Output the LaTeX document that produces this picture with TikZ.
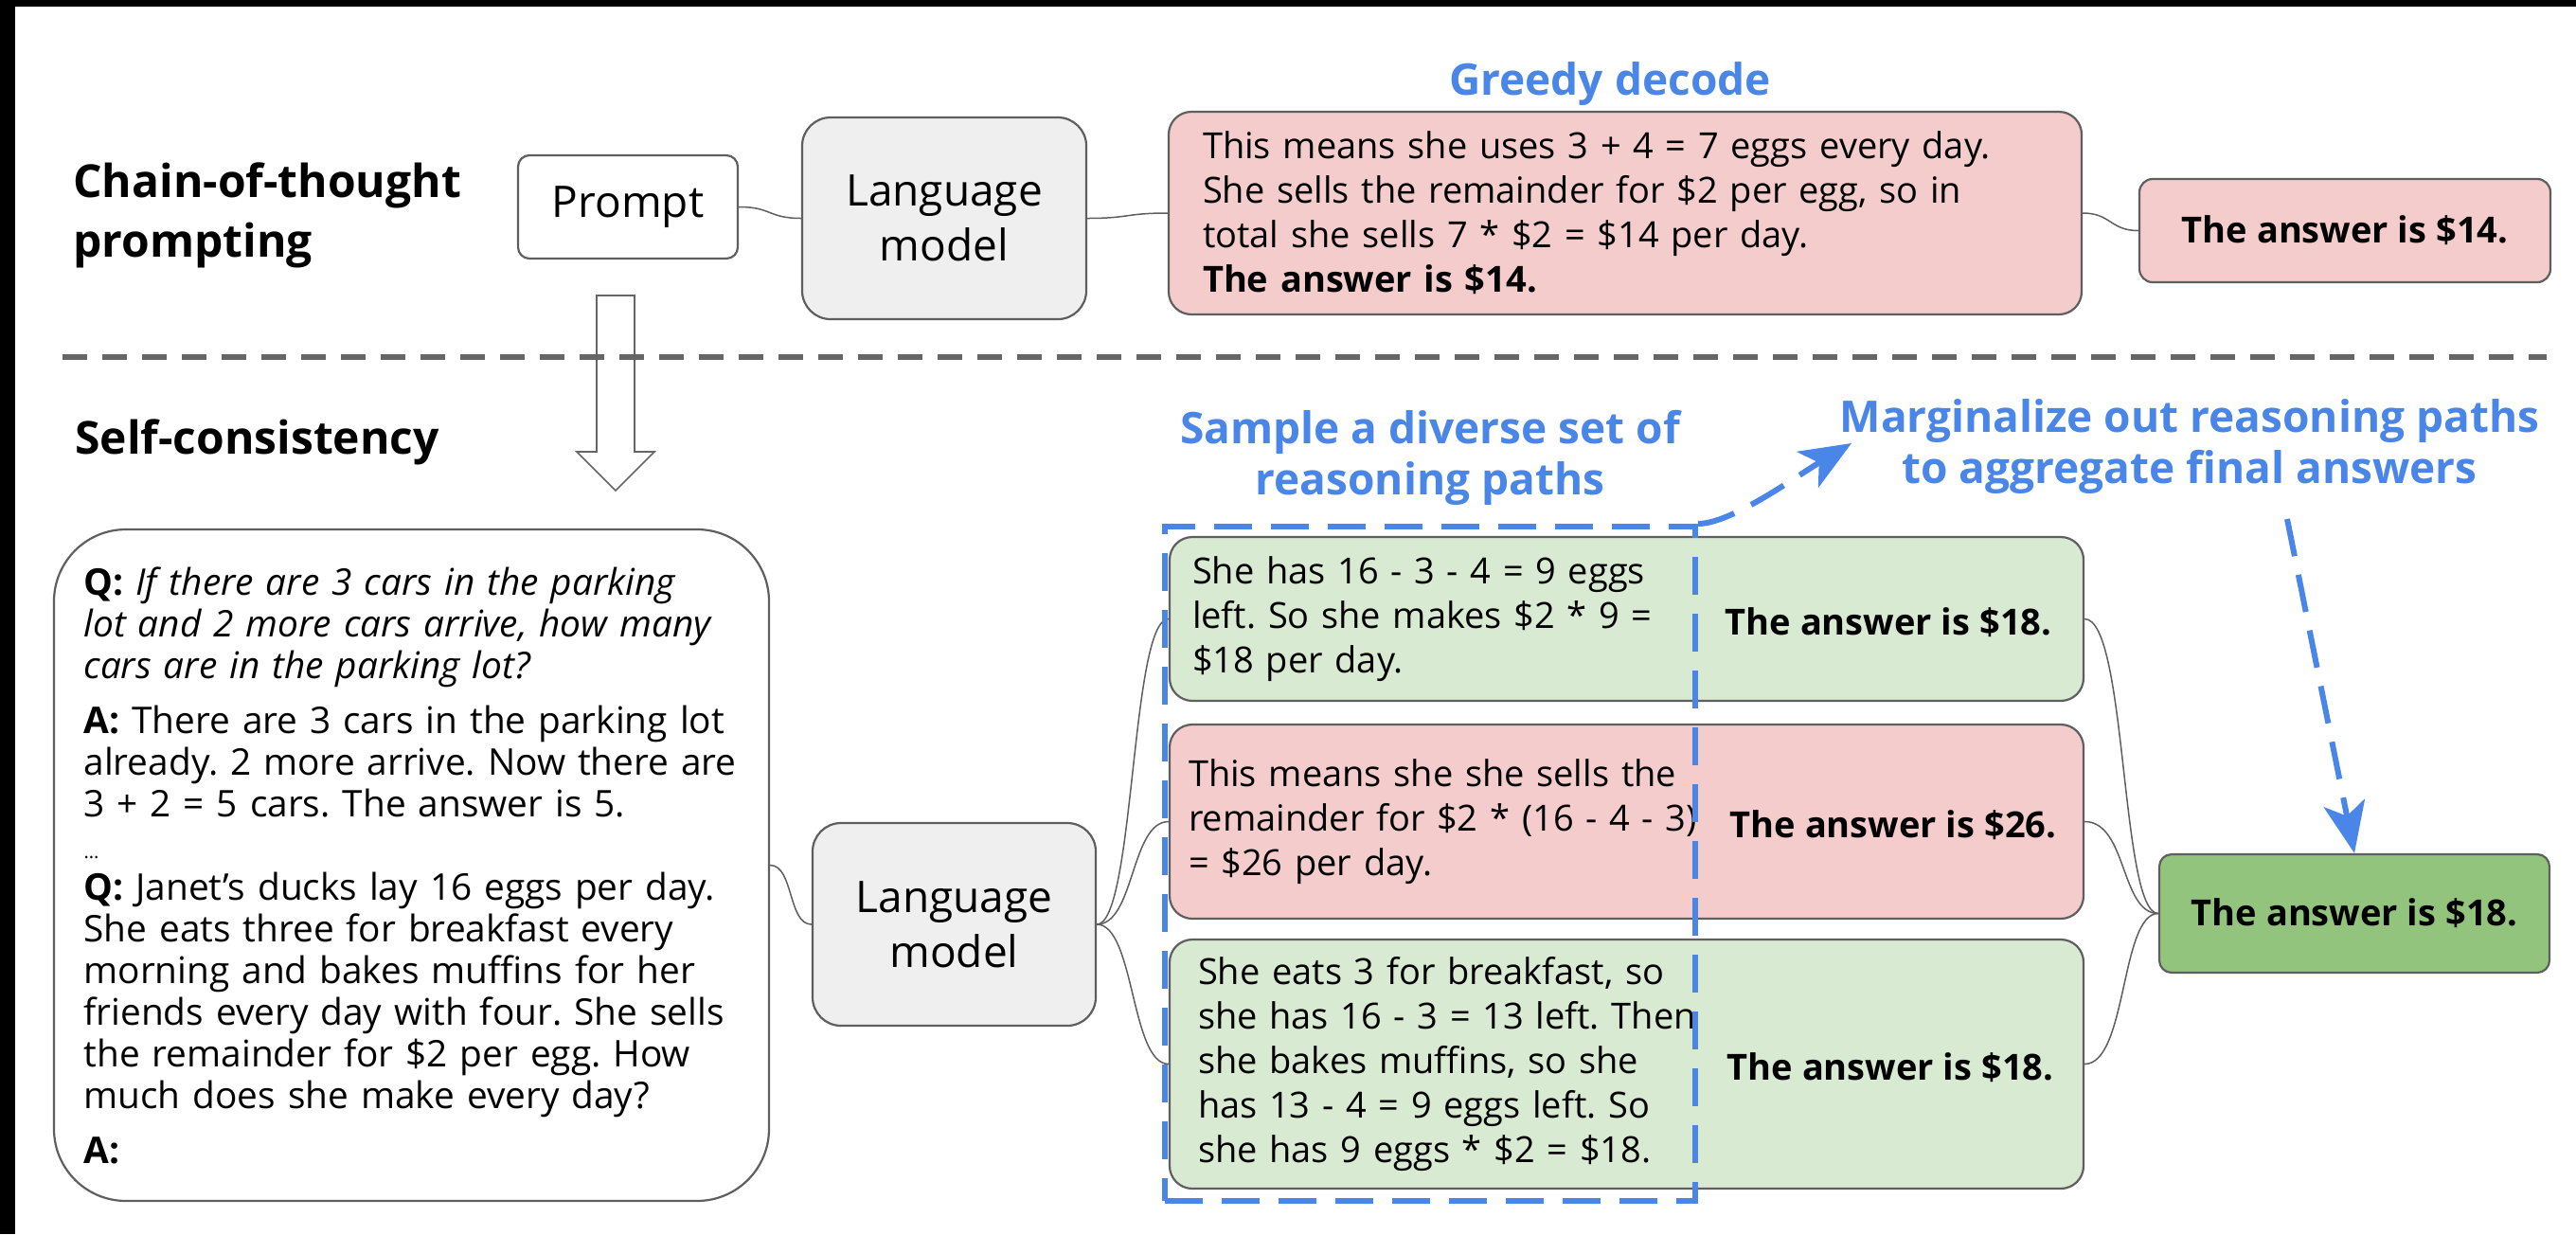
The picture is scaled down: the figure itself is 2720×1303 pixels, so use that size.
\documentclass[tikz,border=0pt]{standalone}
\usepackage{fontspec}
\setmainfont{Open Sans}
\usetikzlibrary{arrows.meta}
\frenchspacing

\definecolor{pinkfill}{HTML}{F4CCCC}
\definecolor{greenfill}{HTML}{D9EAD3}
\definecolor{darkgreen}{HTML}{93C47D}
\definecolor{lmgray}{HTML}{EFEFEF}
\definecolor{edge}{HTML}{5F5F5F}
\definecolor{gblue}{HTML}{4A86E8}
\definecolor{sepgray}{HTML}{666666}

\begin{document}
\begin{tikzpicture}[x=0.5pt,y=-0.5pt,
  bodyfont/.style={font=\fontsize{19}{23.5}\selectfont},
  box/.style={draw=edge, line width=1.1pt, inner sep=0pt, bodyfont},
  lmbox/.style={box, fill=lmgray, rounded corners=15pt, align=center,
    font=\fontsize{23}{29}\selectfont},
  pathbox/.style={box, rounded corners=12pt, minimum width=482.5pt,
    inner xsep=12pt, text width=458.5pt, align=left},
  ansbox/.style={box, font=\fontsize{19}{23.5}\selectfont\bfseries},
  anstext/.style={font=\fontsize{19}{23.5}\selectfont\bfseries, inner sep=0pt},
  heading/.style={font=\fontsize{24}{31.5}\selectfont\bfseries, inner sep=0pt},
  bluelabel/.style={font=\fontsize{23}{27}\selectfont\bfseries, text=gblue,
    inner sep=0pt, align=center},
  conn/.style={draw=edge, line width=0.75pt},
  bluedash/.style={draw=gblue, line width=3pt, dash pattern=on 20pt off 10pt},
  bluearrow/.style={bluedash, -{Stealth[length=27pt, width=22pt, inset=7pt]}}
]
\useasboundingbox (0,0) rectangle (2720,1303);
\fill[white] (0,0) rectangle (2720,1303);
\fill[black] (0,0) rectangle (2720,7);
\fill[black] (0,0) rectangle (16,1303);

% ---------- section headings ----------
\node[heading, anchor=west, align=left] (cot) at (77,227) {Chain-of-thought\\prompting};
\node[heading, anchor=base west] (sc) at (79,479) {Self-consistency};

% ---------- chain-of-thought row ----------
\node[box, fill=white, rounded corners=6pt, minimum width=116pt, minimum height=54.5pt,
  font=\fontsize{23}{29}\selectfont] (prompt) at (663,218.5) {Prompt};
\node[lmbox, minimum width=150pt, minimum height=106.5pt] (lm1) at (997,230.5) {Language\\model};
\node[box, fill=pinkfill, rounded corners=12pt, minimum width=482pt, minimum height=107pt,
  inner xsep=18pt, text width=446pt, align=left] (greedy) at (1716,225)
  {This means she uses 3 + 4 = 7 eggs every day.\\
   She sells the remainder for \$2 per egg, so in\\
   total she sells 7 * \$2 = \$14 per day.\\
   \textbf{The answer is \$14.}};
\node[ansbox, fill=pinkfill, rounded corners=7pt, minimum width=217pt, minimum height=54.5pt]
  (ans14) at (2476,243.5) {The answer is \$14.};
\node[bluelabel, anchor=base] (gd) at (1700,100) {Greedy decode};

\draw[conn] (prompt.east) .. controls +(35,0) and +(-35,0) .. (lm1.west);
\draw[conn] (lm1.east) .. controls +(45,0) and +(-45,0) .. (greedy.west);
\draw[conn] (greedy.east) .. controls +(30,0) and +(-30,0) .. (ans14.west);

% ---------- hand-over arrow and separator ----------
\draw[draw=sepgray, line width=0.8pt, fill=white]
  (630,312) -- (670,312) -- (670,477) -- (691,477) -- (650,518) -- (609,477) -- (630,477) -- cycle;
\draw[sepgray, line width=2.8pt, dash pattern=on 13pt off 8pt] (66,377) -- (2689,377);

% ---------- self-consistency row ----------
\node[box, fill=white, rounded corners=38pt, minimum width=377.5pt, minimum height=354.5pt,
  inner xsep=15.75pt, text width=346pt, align=left,
  font=\fontsize{19.4}{22}\selectfont] (question) at (434.5,913.5)
  {\textbf{Q:} \textit{If there are 3 cars in the parking}\\
   \textit{lot and 2 more cars arrive, how many}\\
   \textit{cars are in the parking lot?}\\[7pt]
   \textbf{A:} There are 3 cars in the parking lot\\
   already. 2 more arrive. Now there are\\
   3 + 2 = 5 cars. The answer is 5.\\
   {\fontsize{10}{22}\selectfont ...}\\
   \textbf{Q:} Janet’s ducks lay 16 eggs per day.\\
   She eats three for breakfast every\\
   morning and bakes muffins for her\\
   friends every day with four. She sells\\
   the remainder for \$2 per egg. How\\
   much does she make every day?\\[7pt]
   \textbf{A:}};

\node[lmbox, minimum width=149.5pt, minimum height=107pt] (lm2) at (1007.5,976) {Language\\model};

\node[pathbox, fill=greenfill, minimum height=86.5pt] (p1) at (1717.5,653.5)
  {She has 16 - 3 - 4 = 9 eggs\\
   left. So she makes \$2 * 9 =\\
   \$18 per day.};
\node[pathbox, fill=pinkfill, minimum height=102.5pt, inner xsep=10pt, text width=462.5pt] (p2) at (1717.5,867.5)
  {This means she she sells the\\
   remainder for \$2 * (16 - 4 - 3)\\
   = \$26 per day.};
\node[pathbox, fill=greenfill, minimum height=131.5pt, inner xsep=15pt, text width=452.5pt] (p3) at (1717.5,1123.5)
  {She eats 3 for breakfast, so\\
   she has 16 - 3 = 13 left. Then\\
   she bakes muffins, so she\\
   has 13 - 4 = 9 eggs left. So\\
   she has 9 eggs * \$2 = \$18.};

\node[anstext] (a1) at (1994,657) {The answer is \$18.};
\node[anstext] (a2) at (1999,871) {The answer is \$26.};
\node[anstext] (a3) at (1996,1127) {The answer is \$18.};

\node[ansbox, fill=darkgreen, rounded corners=6.5pt, minimum width=206pt, minimum height=62.5pt]
  (final) at (2486,964.5) {The answer is \$18.};

\draw[conn] (question.east) .. controls +(25,0) and +(-25,0) .. (lm2.west);
\foreach \p in {p1,p2,p3}{
  \draw[conn] (lm2.east) .. controls +(40,0) and +(-40,0) .. (\p.west);
  \draw[conn] (\p.east) .. controls +(45,0) and +(-40,0) .. (final.west);
}

% ---------- sampled paths and aggregation ----------
\node[bluedash, minimum width=280pt, minimum height=356pt, inner sep=0pt] (samp) at (1510,912) {};
\node[bluelabel] (samplbl) at (1510,483) {Sample a diverse set of\\reasoning paths};
\node[bluelabel] (marg) at (2312,472) {Marginalize out reasoning paths\\to aggregate final answers};

\coordinate (margtip) at (1955,468);
\coordinate (mstart) at (2415,548);
\draw[bluearrow] (samp.north east) .. controls +(35,0) and +(-60,36) .. (margtip);
\draw[bluearrow] (mstart) -- (final.north);
\end{tikzpicture}
\end{document}
